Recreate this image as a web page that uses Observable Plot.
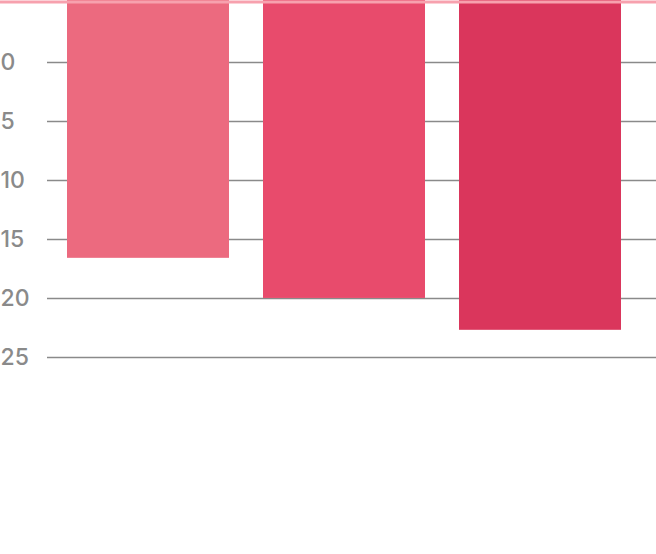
<!DOCTYPE html>
<html>
<head>
<meta charset="utf-8">
<script src="https://cdn.jsdelivr.net/npm/d3@7"></script>
<script src="https://cdn.jsdelivr.net/npm/@observablehq/plot@0.6"></script>
<style>
  html, body { margin: 0; padding: 0; background: #fff; }
  svg { display: block; }
</style>
</head>
<body>
<div id="chart"></div>
<script>
const categories = ["A", "B", "C"];
const values = [16.6, 20, 22.7];
const colors = ["#ec6a7f", "#e84b6c", "#da365c"];
const ticks = [0, 5, 10, 15, 20, 25];

const data = categories.map((c, i) => ({category: c, value: values[i], color: colors[i]}));
const yMin = -5.25;

const chart = Plot.plot({
  width: 656,
  height: 554,
  marginTop: 0,
  marginBottom: 0,
  marginLeft: 0,
  marginRight: 0,
  style: {fontFamily: "Inter, 'Noto Sans', sans-serif", background: "#fff"},
  x: {domain: categories, range: [66, 622], paddingInner: 0.171, paddingOuter: 0, axis: null},
  y: {domain: [yMin, 41.7], range: [0, 554], axis: null},
  marks: [
    Plot.ruleY(ticks, {stroke: "#8a8a8a", strokeWidth: 1.5, insetLeft: 47}),
    Plot.text(ticks, {y: d => d, text: d => String(d), frameAnchor: "left", textAnchor: "start",
      fill: "#8a8a8a", fontSize: 23, fontWeight: 500}),
    Plot.barY(data, {x: "category", y1: yMin, y2: "value", fill: "color"}),
    Plot.ruleY([yMin], {stroke: "#f7a1ae", strokeWidth: 3, dy: 1.5})
  ]
});
document.getElementById("chart").appendChild(chart);
</script>
</body>
</html>
